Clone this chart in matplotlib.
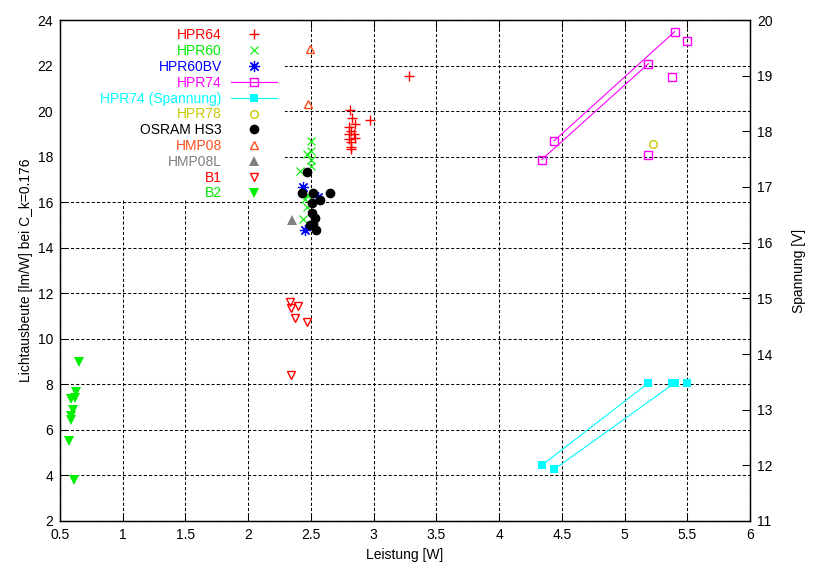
import numpy as np
import matplotlib
matplotlib.use('Agg')
import matplotlib.pyplot as plt
from matplotlib.patches import Rectangle

plt.rcParams['font.family'] = ['Liberation Sans', 'DejaVu Sans']
plt.rcParams['font.size'] = 10

nan = np.nan

# DATA
hpr64_x = [2.81, 2.83, 2.85, 2.97, 2.80, 2.82, 2.84, 2.80, 2.85, 2.80, 2.82, 2.82, 2.82, 3.28]
hpr64_y = [20.05, 19.69, 19.44, 19.61, 19.29, 19.14, 19.00, 19.00, 18.81, 18.76, 18.66, 18.41, 18.34, 21.54]

hpr60_x = [2.50, 2.50, 2.47, 2.50, 2.50, 2.41, 2.47, 2.45, 2.47, 2.44]
hpr60_y = [18.69, 18.23, 18.10, 17.86, 17.61, 17.39, 16.32, 16.16, 15.77, 15.26]

hpr60bv_x = [2.44, 2.56, 2.45]
hpr60bv_y = [16.65, 16.23, 14.76]

# NaN separates the line segments (blank lines in the data file)
hpr74_x = [4.34, 5.19, nan, 4.44, 5.40, nan, 5.50, nan, 5.38, nan, 5.19]
hpr74_y = [17.87, 22.08, nan, 18.70, 23.49, nan, 23.09, nan, 21.51, nan, 18.09]

spannung_x = [4.34, 5.19, nan, 4.44, 5.40, nan, 5.38, nan, 5.50]
spannung_v = [12.00, 13.48, nan, 11.93, 13.48, nan, 13.48, nan, 13.48]

hpr78_x = [5.23]
hpr78_y = [18.56]

osram_x = [2.47, 2.43, 2.52, 2.65, 2.57, 2.51, 2.51, 2.53, 2.52, 2.54, 2.49]
osram_y = [17.31, 16.39, 16.39, 16.39, 16.10, 15.95, 15.51, 15.29, 15.04, 14.78, 14.98]

hmp08_x = [2.49, 2.48]
hmp08_y = [22.74, 20.30]

hmp08l_x = [2.35]
hmp08l_y = [15.22]

b1_x = [2.33, 2.34, 2.40, 2.37, 2.47, 2.34]
b1_y = [11.63, 11.37, 11.43, 10.93, 10.75, 8.41]

b2_x = [0.65, 0.63, 0.59, 0.62, 0.60, 0.59, 0.59, 0.57, 0.61]
b2_y = [8.97, 7.68, 7.34, 7.39, 6.87, 6.61, 6.44, 5.51, 3.80]

x_ticks = [0.5, 1, 1.5, 2, 2.5, 3, 3.5, 4, 4.5, 5, 5.5, 6]
x_labels = ['0.5', '1', '1.5', '2', '2.5', '3', '3.5', '4', '4.5', '5', '5.5', '6']
y_ticks = [2, 4, 6, 8, 10, 12, 14, 16, 18, 20, 22, 24]
y2_ticks = [11, 12, 13, 14, 15, 16, 17, 18, 19, 20]

# COLOURS
RED = '#ff0000'
GREEN = '#00ee00'
BLUE = '#0000ff'
MAGENTA = '#ff00ff'
CYAN = '#00ffff'
YELLOW = '#c8c800'
ORANGE = '#ff5020'
GRAY = '#808080'

fig = plt.figure(figsize=(8.14, 5.72), dpi=100)
ax = fig.add_axes([60 / 814, 1 - 521 / 572, 690 / 814, 501 / 572])
ax2 = ax.twinx()

h = []
h += ax.plot(hpr64_x, hpr64_y, ls='none', marker='+', ms=7.5, mew=1, color=RED, label='HPR64')
h += ax.plot(hpr60_x, hpr60_y, ls='none', marker='x', ms=6, mew=0.8, color=GREEN, label='HPR60')
h += ax.plot(hpr60bv_x, hpr60bv_y, ls='none', marker=(8, 2, 0), ms=8, mew=0.9, color=BLUE, label='HPR60BV')
h += ax.plot(hpr74_x, hpr74_y, ls='-', lw=0.8, marker='s', ms=5.5, mew=1, mfc='none',
             color=MAGENTA, label='HPR74')
h += ax2.plot(spannung_x, spannung_v, ls='-', lw=0.8, marker='s', ms=6, mew=0,
              color=CYAN, label='HPR74 (Spannung)')
h += ax.plot(hpr78_x, hpr78_y, ls='none', marker='o', ms=5.5, mew=1, mfc='none', color=YELLOW, label='HPR78')
h += ax.plot(osram_x, osram_y, ls='none', marker='o', ms=7, mew=0, color='black', label='OSRAM HS3')
h += ax.plot(hmp08_x, hmp08_y, ls='none', marker='^', ms=6, mew=1, mfc='none', color=ORANGE, label='HMP08')
h += ax.plot(hmp08l_x, hmp08l_y, ls='none', marker='^', ms=6.5, mew=0, color=GRAY, label='HMP08L')
h += ax.plot(b1_x, b1_y, ls='none', marker='v', ms=6, mew=1, mfc='none', color=RED, label='B1')
h += ax.plot(b2_x, b2_y, ls='none', marker='v', ms=6.5, mew=0, color=GREEN, label='B2')

ax.set_xlim(0.5, 6)
ax.set_ylim(2, 24)
ax2.set_ylim(11, 20)
ax.set_xticks(x_ticks)
ax.set_xticklabels(x_labels)
ax.set_yticks(y_ticks)
ax2.set_yticks(y2_ticks)

ax.grid(True, color='black', lw=0.75, ls=(0, (3, 2)))
ax.set_axisbelow(True)

# the key area hides the grid (opaque key box, no border)
ax.add_patch(Rectangle((0, 321 / 501), 225 / 690, 180 / 501, transform=ax.transAxes,
                       facecolor='white', edgecolor='none', zorder=1))

ax.tick_params(direction='in', length=6, width=0.75, top=True, right=False, pad=5)
ax2.tick_params(direction='in', length=6, width=0.75, pad=5)
for a in (ax, ax2):
    for s in a.spines.values():
        s.set_linewidth(0.9)

ax.set_xlabel('Leistung [W]', labelpad=4)
ax.set_ylabel('Lichtausbeute [lm/W] bei C_k=0.176', labelpad=3)
ax2.set_ylabel('Spannung [V]', labelpad=14)

# legend: text right aligned, marker after text
leg = ax2.legend(handles=h, loc='upper right', bbox_to_anchor=(225 / 690, 1.0),
                 markerfirst=False, frameon=False, labelspacing=0.13,
                 handlelength=3.3, handletextpad=0.65, borderpad=0.6,
                 borderaxespad=0.0, labelcolor=[l.get_color() for l in h])

plt.savefig('out.png', dpi=100)
